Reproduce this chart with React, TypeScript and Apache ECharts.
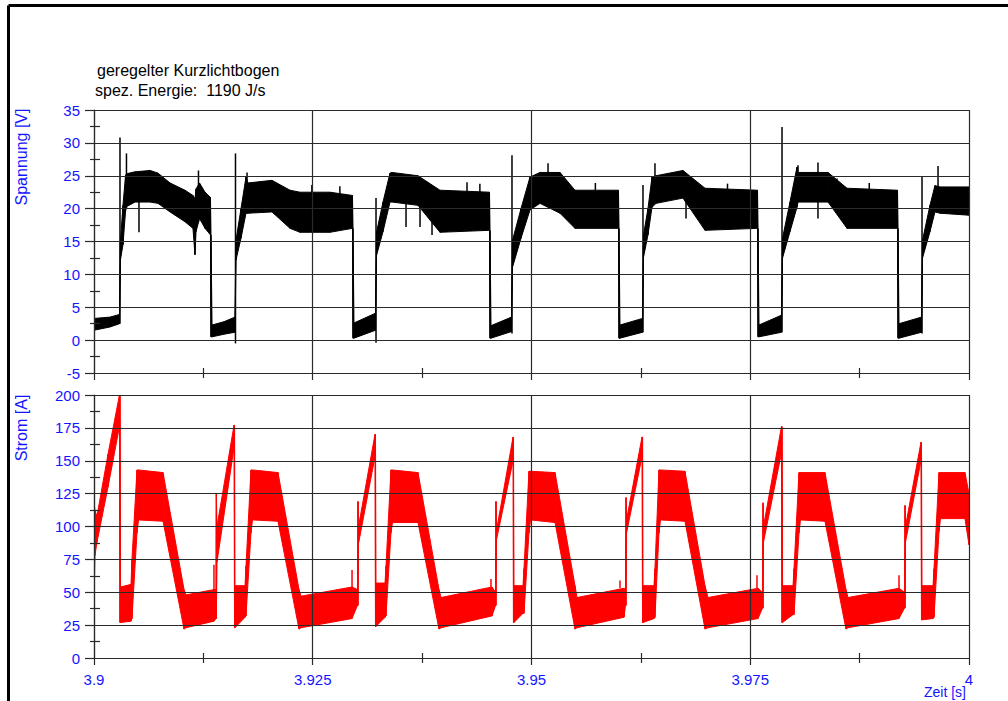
import React, { useEffect, useRef } from "react";
import * as echarts from "echarts";

// ---- texts ----
const titleLines = ["geregelter Kurzlichtbogen", "spez. Energie:  1190 J/s"];
const yNameTop = "Spannung [V]";
const yNameBottom = "Strom [A]";
const xName = "Zeit [s]";
const xTickLabels = ["3.9", "3.925", "3.95", "3.975", "4"];
const tStart = 3.9; // s

// ---- Spannung (voltage): envelope of the noisy trace, time in ms after 3.9 s ----
const uMs = [
  0, 1.83, 2.91, 3.02, 3.31, 3.6, 3.71, 4.69, 6.4, 7.31,
  8.69, 10.4, 11.31, 11.54, 11.66, 12.06, 12.69, 13.31, 13.37, 13.49,
  14.86, 16.11, 16.23, 16.8, 17.37, 17.6, 20.34, 22.4, 23.54, 26.97,
  29.54, 29.6, 29.71, 32.17, 32.29, 33.03, 33.83, 34.06, 37.03, 39.54,
  45.2, 45.26, 45.37, 47.71, 47.83, 48.8, 49.83, 50.97, 53.26, 54.97,
  59.94, 60.0, 60.11, 62.69, 62.8, 63.31, 63.77, 64.23, 67.31, 69.83,
  75.83, 75.89, 76.0, 78.57, 78.69, 79.54, 80.34, 80.46, 83.89, 86.06,
  91.83, 91.89, 92.0, 94.57, 94.69, 95.54, 96.11, 96.69, 100,
];
const uHi = [
  3.3, 3.5, 3.9, 15.0, 20.5, 25.0, 25.3, 25.6, 25.8, 25.4,
  23.9, 22.8, 22.0, 21.5, 23.0, 23.9, 22.5, 21.7, 16.0, 2.3,
  2.8, 3.5, 15.2, 20.0, 24.8, 23.9, 24.3, 22.8, 22.5, 22.5,
  22.0, 17.0, 2.6, 4.1, 16.4, 21.0, 25.4, 25.5, 25.0, 22.8,
  22.5, 16.7, 2.2, 3.5, 15.2, 20.0, 24.8, 25.5, 25.5, 22.8,
  22.8, 17.0, 2.3, 3.3, 16.0, 20.0, 24.8, 25.0, 25.8, 23.1,
  22.8, 17.0, 2.3, 3.8, 15.5, 21.0, 26.3, 25.5, 25.5, 23.1,
  22.8, 17.0, 2.5, 3.5, 15.2, 20.5, 23.5, 23.3, 23.3,
];
const uLo = [
  1.5, 2.0, 2.5, 12.2, 14.5, 19.5, 20.3, 21.0, 21.0, 20.8,
  19.5, 18.0, 17.0, 13.0, 16.5, 18.5, 17.0, 16.0, 0.5, 0.5,
  0.9, 1.2, 12.2, 15.5, 19.3, 19.3, 19.5, 17.0, 16.4, 16.4,
  17.0, 0.3, 0.3, 1.5, 12.9, 16.5, 21.0, 21.0, 20.5, 16.4,
  16.7, 0.3, 0.3, 1.3, 11.1, 15.5, 19.8, 20.8, 19.3, 17.0,
  17.0, 0.3, 0.3, 1.2, 12.6, 16.0, 20.2, 20.8, 21.6, 16.7,
  17.0, 0.5, 0.5, 1.2, 12.5, 16.5, 20.2, 21.0, 21.0, 17.0,
  17.0, 0.3, 0.3, 1.2, 12.5, 16.5, 19.5, 19.3, 19.0,
];
// single spikes (ms, from V, to V)
const uSpikeMs = [2.97, 3.71, 5.14, 11.94, 16.17, 17.49, 24.9, 28.1, 32.23, 35.66, 37.26, 38.63, 42.63, 44.1, 47.77, 51.89, 57.3, 62.74, 64.11, 67.66, 72.4, 78.63, 80.46, 82.74, 84.91, 88.6, 94.63, 96.46];
const uSpikeLo = [2.5, 20.0, 16.4, 18.0, -0.5, 19.3, 22.0, 22.0, -0.4, 17.2, 17.2, 16.0, 22.0, 22.0, 1.0, 25.0, 22.5, 1.2, 24.5, 18.5, 22.5, 1.2, 25.0, 18.5, 23.0, 22.5, 1.0, 23.0];
const uSpikeHi = [30.8, 28.4, 21.0, 25.8, 28.4, 25.5, 23.6, 23.4, 21.6, 21.0, 20.5, 18.0, 24.0, 23.8, 28.1, 26.9, 23.9, 23.6, 26.9, 21.5, 23.8, 32.4, 26.6, 27.0, 24.6, 23.9, 24.9, 26.5];

// ---- Strom (current): envelope, time in ms after 3.9 s ----
const iMs = [
  0, 0.11, 0.34, 1.6, 2.91, 2.97, 3.03, 4.23, 4.34, 4.91,
  5.09, 7.89, 10.29, 10.51, 13.71, 13.94, 13.98, 14.06, 16.0, 16.06,
  16.11, 17.26, 17.37, 17.94, 18.11, 21.03, 23.43, 23.66, 29.49, 30.11,
  30.17, 30.23, 32.11, 32.17, 32.23, 33.26, 33.37, 33.94, 34.11, 37.03,
  39.43, 39.66, 45.49, 45.89, 45.94, 46.0, 47.89, 47.94, 48.0, 49.03,
  49.14, 49.71, 49.89, 52.69, 54.97, 55.2, 60.57, 60.74, 60.8, 60.86,
  62.63, 62.69, 62.74, 64.0, 64.11, 64.57, 64.74, 67.54, 69.83, 70.17,
  75.89, 76.4, 76.46, 76.51, 78.57, 78.63, 78.69, 79.89, 80.0, 80.57,
  80.74, 83.54, 85.94, 86.17, 92.0, 92.63, 92.69, 92.74, 94.51, 94.57,
  94.63, 95.89, 96.0, 96.57, 96.74, 99.54, 100,
];
const iHi = [
  119, 112, 108, 155, 200, 200, 54, 56, 75, 143,
  143, 141, 52, 48, 52, 52, 125, 100, 177, 177,
  55, 55, 70, 143, 143, 141, 52, 47, 54, 52,
  119, 100, 170, 170, 57, 57, 70, 143, 143, 141,
  52, 46, 54, 50, 119, 97, 168, 168, 55, 55,
  68, 142, 142, 141, 55, 46, 53, 52, 122, 105,
  168, 168, 55, 55, 68, 143, 143, 142, 55, 46,
  53, 50, 118, 100, 176, 176, 55, 55, 68, 141,
  141, 141, 52, 46, 53, 50, 116, 100, 164, 164,
  55, 55, 68, 141, 141, 141, 125,
];
const iLo = [
  42, 78, 88, 130, 176, 27, 27, 28, 30, 95,
  105, 104, 22, 23, 28, 30, 30, 73, 160, 23,
  23, 31, 32, 95, 105, 104, 22, 23, 30, 40,
  40, 87, 153, 24, 24, 31, 32, 95, 103, 103,
  22, 23, 32, 40, 40, 90, 150, 27, 27, 34,
  34, 95, 105, 103, 22, 23, 31, 40, 40, 95,
  153, 27, 27, 30, 31, 95, 105, 104, 22, 23,
  30, 38, 38, 88, 156, 27, 27, 33, 33, 95,
  105, 104, 22, 23, 30, 38, 38, 88, 150, 29,
  29, 30, 31, 96, 106, 106, 86,
];
const iSpikeMs = [13.71, 29.49, 45.37, 60.11, 75.77, 92.0];
const iSpikeLo = [50, 54, 54, 53, 53, 53];
const iSpikeHi = [71, 67, 60, 59, 63, 63];

// ---- helpers ----
const toSec = (ms: number) => tStart + ms / 1000;

function bandData(ms: number[], hi: number[], lo: number[]) {
  const out: number[][] = [];
  for (let k = 0; k < ms.length - 1; k++) {
    out.push([toSec(ms[k]), hi[k], lo[k], toSec(ms[k + 1]), hi[k + 1], lo[k + 1]]);
  }
  return out;
}
function spikeData(ms: number[], lo: number[], hi: number[]) {
  return ms.map((m, k) => [toSec(m), lo[k], hi[k]]);
}
const bandRender = (color: string) => (_p: any, api: any) => {
  const a = api.coord([api.value(0), api.value(1)]);
  const b = api.coord([api.value(3), api.value(4)]);
  const c = api.coord([api.value(3), api.value(5)]);
  const d = api.coord([api.value(0), api.value(2)]);
  return {
    type: "polygon",
    shape: { points: [a, b, c, d] },
    style: { fill: color, stroke: color, lineWidth: 1 },
  };
};
const spikeRender = (color: string) => (_p: any, api: any) => {
  const a = api.coord([api.value(0), api.value(1)]);
  const b = api.coord([api.value(0), api.value(2)]);
  return {
    type: "line",
    shape: { x1: a[0], y1: a[1], x2: b[0], y2: b[1] },
    style: { stroke: color, lineWidth: 1.5 },
  };
};

const FONT = "'Liberation Sans', Arial, sans-serif";
const BLUE = "#1414ff";
const gridLine = { color: "#2a2a2a", width: 1.2 };

function xMain(gridIndex: number, showLabels: boolean) {
  return {
    type: "value",
    gridIndex,
    position: "bottom",
    min: 3.9,
    max: 4,
    interval: 0.025,
    z: 5,
    axisLine: { show: true, onZero: false, lineStyle: gridLine },
    axisTick: { show: true, length: 7, lineStyle: gridLine },
    minorTick: { show: true, splitNumber: 2, length: 5, lineStyle: gridLine },
    splitLine: { show: true, lineStyle: gridLine },
    axisLabel: {
      show: showLabels,
      color: BLUE,
      fontSize: 15,
      fontFamily: FONT,
      margin: 14,
      formatter: (v: number) => {
        const k = Math.round((v - 3.9) / 0.025);
        return xTickLabels[k] ?? "";
      },
    },
  };
}
function xOverlay(gridIndex: number) {
  return {
    type: "value",
    gridIndex,
    position: "bottom",
    min: 3.9,
    max: 4,
    interval: 0.025,
    z: 5,
    axisLine: { show: false, onZero: false },
    axisTick: { show: false, inside: true },
    minorTick: { show: true, splitNumber: 2, length: 5, lineStyle: gridLine },
    splitLine: { show: false },
    axisLabel: { show: false },
  };
}
function yMain(gridIndex: number, min: number, max: number, interval: number) {
  return {
    type: "value",
    gridIndex,
    position: "left",
    min,
    max,
    interval,
    z: 5,
    axisLine: { show: true, onZero: false, lineStyle: gridLine },
    axisTick: { show: true, length: 9, lineStyle: gridLine },
    minorTick: { show: true, splitNumber: 2, length: 4, lineStyle: gridLine },
    splitLine: { show: true, lineStyle: gridLine },
    axisLabel: { color: BLUE, fontSize: 15, fontFamily: FONT, margin: 14 },
  };
}
function yOverlay(gridIndex: number, min: number, max: number, interval: number) {
  return {
    type: "value",
    gridIndex,
    position: "left",
    min,
    max,
    interval,
    z: 5,
    axisLine: { show: false, onZero: false },
    axisTick: { show: false, inside: true },
    minorTick: { show: true, splitNumber: 2, length: 6, lineStyle: gridLine },
    splitLine: { show: false },
    axisLabel: { show: false },
  };
}

export default function App() {
  const ref = useRef<HTMLDivElement>(null);
  useEffect(() => {
    if (!ref.current) return;
    const chart = echarts.init(ref.current, undefined, { renderer: "svg" });
    chart.setOption({
      animation: false,
      backgroundColor: "#ffffff",
      grid: [
        { left: 94, top: 110, width: 875, height: 263 },
        { left: 94, top: 395, width: 875, height: 263 },
      ],
      xAxis: [xMain(0, false), xOverlay(0), xMain(1, true), xOverlay(1)],
      yAxis: [yMain(0, -5, 35, 5), yOverlay(0, -5, 35, 5), yMain(1, 0, 200, 25), yOverlay(1, 0, 200, 25)],
      series: [
        {
          type: "custom",
          name: "Spannung",
          xAxisIndex: 0,
          yAxisIndex: 0,
          z: 1,
          clip: true,
          silent: true,
          encode: { x: [0, 3], y: [1, 2, 4, 5] },
          data: bandData(uMs, uHi, uLo),
          renderItem: bandRender("#000000"),
        },
        {
          type: "custom",
          name: "Spannung Spitzen",
          xAxisIndex: 0,
          yAxisIndex: 0,
          z: 1,
          clip: true,
          silent: true,
          encode: { x: 0, y: [1, 2] },
          data: spikeData(uSpikeMs, uSpikeLo, uSpikeHi),
          renderItem: spikeRender("#000000"),
        },
        {
          type: "custom",
          name: "Strom",
          xAxisIndex: 2,
          yAxisIndex: 2,
          z: 1,
          clip: true,
          silent: true,
          encode: { x: [0, 3], y: [1, 2, 4, 5] },
          data: bandData(iMs, iHi, iLo),
          renderItem: bandRender("#ff0000"),
        },
        {
          type: "custom",
          name: "Strom Spitzen",
          xAxisIndex: 2,
          yAxisIndex: 2,
          z: 1,
          clip: true,
          silent: true,
          encode: { x: 0, y: [1, 2] },
          data: spikeData(iSpikeMs, iSpikeLo, iSpikeHi),
          renderItem: spikeRender("#ff0000"),
        },
      ],
      graphic: [
        { type: "line", shape: { x1: 8.5, y1: 5.5, x2: 1008, y2: 5.5 }, style: { stroke: "#000", lineWidth: 3 } },
        { type: "line", shape: { x1: 8.5, y1: 5.5, x2: 8.5, y2: 701 }, style: { stroke: "#000", lineWidth: 3 } },
        {
          type: "text",
          x: 97,
          y: 70,
          style: { text: titleLines[0], fill: "#000", font: `16px ${FONT}`, textVerticalAlign: "middle" },
        },
        {
          type: "text",
          x: 95,
          y: 90,
          style: { text: titleLines[1], fill: "#000", font: `16px ${FONT}`, textVerticalAlign: "middle" },
        },
        {
          type: "text",
          x: 21,
          y: 157,
          rotation: Math.PI / 2,
          style: { text: yNameTop, fill: BLUE, font: `16px ${FONT}`, textAlign: "center", textVerticalAlign: "middle" },
        },
        {
          type: "text",
          x: 21,
          y: 428,
          rotation: Math.PI / 2,
          style: { text: yNameBottom, fill: BLUE, font: `16px ${FONT}`, textAlign: "center", textVerticalAlign: "middle" },
        },
        {
          type: "text",
          x: 945,
          y: 692,
          style: { text: xName, fill: BLUE, font: `14px ${FONT}`, textAlign: "center", textVerticalAlign: "middle" },
        },
      ],
    });
    return () => chart.dispose();
  }, []);
  return (
    <div
      ref={ref}
      style={{ position: "fixed", left: 0, top: 0, width: 1008, height: 701, background: "#fff" }}
    />
  );
}
